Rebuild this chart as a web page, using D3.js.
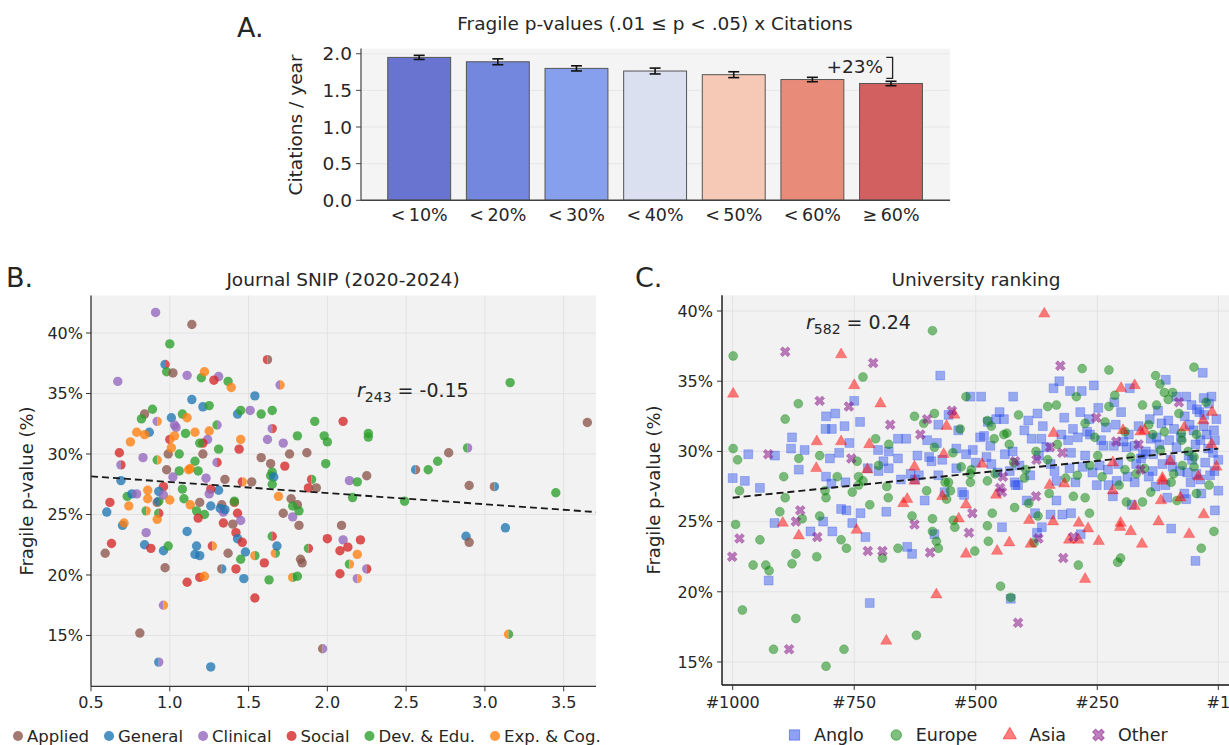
<!DOCTYPE html>
<html><head><meta charset="utf-8">
<script src="https://cdn.jsdelivr.net/npm/d3@7"></script>
<style>
body{margin:0;background:#fff;}
text{font-family:"DejaVu Sans","Liberation Sans",sans-serif;fill:#262626;}
</style>
</head><body>
<svg id="c" width="1229" height="745"></svg>
<script>
// ================= DATA =================
// Panel A
const barLabels = ["<\u200910%","<\u200920%","<\u200930%","<\u200940%","<\u200950%","<\u200960%","\u2265\u200960%"];
const barValues = [1.95, 1.89, 1.80, 1.764, 1.714, 1.648, 1.594];
const barErrors = [0.028, 0.04, 0.035, 0.04, 0.04, 0.03, 0.03];
const bracketRange = [1.95, 1.665];
const bracketText = "+23%";
const yTicksA = [0, 0.5, 1.0, 1.5, 2.0];

// Panel B : [SNIP, fragile %, field, second field]
const fieldNames = ["Applied","General","Clinical","Social","Dev. & Edu.","Exp. & Cog."];
const fieldCodes = ["A","G","C","S","D","E"];
const journalPoints = [
[0.91,41.7,"C"],[1.14,40.7,"A"],[1.00,39.1,"D"],[0.97,37.4,"G","S"],[0.98,36.8,"D"],[1.02,36.7,"A"],
[1.11,36.5,"C"],[1.20,36.3,"D"],[1.22,36.8,"E"],[1.31,36.4,"C"],[1.28,36.1,"S"],[1.37,36.0,"D"],
[1.39,35.5,"E"],[1.62,37.8,"S","A"],[1.70,35.7,"C","E"],[0.67,36.0,"C"],[1.14,34.5,"G"],[1.21,33.9,"G"],
[1.25,34.0,"D"],[1.54,34.8,"G"],[1.43,33.3,"G"],[1.45,33.6,"D"],[1.51,33.6,"C"],[1.58,33.3,"D"],
[1.65,33.6,"D"],[0.89,33.7,"D"],[0.84,33.3,"A"],[0.82,32.9,"D"],[0.92,32.7,"C","E"],[1.01,33.0,"G"],
[1.08,33.3,"D"],[1.11,33.0,"E"],[1.03,32.4,"C"],[1.04,32.2,"C"],[0.87,31.8,"G"],[0.79,31.8,"E"],
[0.84,31.6,"E"],[0.75,31.0,"E"],[1.00,31.2,"S","E"],[1.03,31.5,"E"],[1.10,31.7,"D"],[1.16,31.8,"E"],
[1.25,31.9,"E"],[1.30,32.4,"D","C"],[1.24,31.2,"C"],[1.21,30.9,"S"],[1.19,30.9,"D"],[1.31,30.4,"D"],
[1.45,31.2,"E"],[1.44,30.4,"S"],[1.62,31.2,"C"],[1.65,32.1,"C","S"],[1.72,30.9,"C"],[1.81,31.5,"D"],
[1.92,32.7,"D"],[1.98,31.5,"D"],[2.00,31.0,"D"],[2.10,32.7,"S"],[2.26,31.7,"D"],[2.26,31.4,"D"],
[3.16,35.9,"D"],[3.65,32.6,"A"],[1.87,30.1,"A"],[1.76,30.0,"A"],[1.58,29.7,"A"],[1.64,29.2,"A"],
[1.99,29.2,"D"],[1.73,29.0,"S"],[0.68,30.1,"S"],[0.83,29.7,"C"],[0.92,29.5,"D","E"],[0.99,30.0,"A"],
[1.01,30.5,"E"],[1.06,30.0,"D"],[1.21,30.0,"A"],[1.30,29.3,"C","S"],[1.16,29.4,"D"],[1.13,28.8,"E"],
[0.98,28.7,"A"],[0.69,29.1,"C","S"],[1.06,28.6,"D"],[1.12,28.7,"E"],[1.02,28.1,"C"],[1.18,28.6,"D"],
[1.35,27.9,"A"],[1.23,28.0,"C"],[1.46,27.7,"S","E"],[1.52,27.7,"A"],[1.65,28.5,"D"],[1.64,28.2,"D"],
[1.66,28.1,"G"],[1.65,27.5,"D"],[2.14,27.8,"C"],[2.19,27.7,"D"],[2.25,28.2,"A"],[2.77,30.1,"A"],
[2.89,30.5,"D","C"],[2.70,29.4,"D"],[2.64,28.7,"D"],[2.56,28.7,"G","A"],[2.90,27.4,"A"],[3.06,27.3,"A","G"],
[1.88,27.2,"S"],[1.93,27.2,"A"],[1.90,27.9,"S","D"],[1.31,27.0,"G"],[1.26,27.1,"S"],[1.08,27.1,"D"],
[0.86,27.0,"E"],[0.96,27.3,"S"],[0.93,26.9,"G"],[0.69,27.8,"G"],
[3.45,26.8,"D"],[2.49,26.1,"D"],[2.16,26.4,"D"],[1.69,26.5,"E"],[1.77,26.3,"A"],[1.81,25.8,"A"],
[1.78,24.8,"C"],[1.78,25.7,"D"],[1.82,25.3,"D"],[1.82,24.1,"A"],[1.72,25.1,"A"],[1.09,26.3,"D"],
[0.62,26.0,"S"],[0.60,25.2,"G"],[0.59,21.8,"A"],[0.63,22.6,"S"],[0.70,24.1,"G"],[0.71,24.3,"E"],
[0.73,26.5,"D"],[0.74,25.7,"E"],[0.76,26.7,"G"],[0.79,26.7,"C"],[0.86,26.3,"E"],[0.85,25.3,"D","E"],
[0.92,26.0,"A"],[0.93,25.1,"D","S"],[0.93,26.1,"G","D"],[0.96,26.6,"C"],[1.00,26.2,"E"],[0.92,24.6,"E"],
[0.85,23.5,"C"],[0.84,22.5,"G"],[0.88,22.2,"S"],[0.96,22.0,"G"],[0.99,22.4,"D"],[0.97,20.6,"A"],
[0.96,17.5,"C","E"],[0.93,12.8,"G","C"],[0.81,15.2,"A"],[1.13,25.8,"E"],[1.17,25.3,"D"],[1.22,25.0,"D"],
[1.18,24.7,"S"],[1.19,26.0,"A"],[1.11,23.6,"G"],[1.17,22.4,"G"],[1.19,21.6,"G"],[1.16,21.7,"G"],
[1.11,19.4,"S"],[1.19,19.8,"S"],[1.22,19.9,"E"],[1.26,25.7,"G"],[1.25,26.7,"C"],[1.33,25.8,"A"],
[1.32,25.5,"G"],[1.34,25.2,"C"],[1.35,25.4,"G"],[1.34,24.3,"S"],[1.40,24.2,"A"],[1.41,26.0,"S"],
[1.41,26.1,"D"],[1.43,25.1,"S"],[1.45,24.5,"C"],[1.42,23.5,"S"],[1.43,23.0,"G"],[1.46,22.7,"S"],
[1.48,21.9,"G"],[1.45,21.3,"D"],[1.42,20.5,"S"],[1.47,19.7,"G"],[1.54,21.6,"E","D"],[1.60,21.0,"S"],
[1.37,21.8,"A"],[1.27,22.4,"S","E"],[1.33,20.5,"A","G"],[1.54,18.1,"S"],[1.63,19.6,"D"],[1.65,23.2,"D","S"],
[1.67,21.8,"E","D"],[1.68,22.4,"G"],[1.78,19.8,"E","D"],[1.81,19.9,"D"],[1.88,22.2,"D","S"],[2.00,23.0,"S"],
[2.08,22.0,"S"],[2.10,22.9,"C"],[2.13,22.3,"S"],[2.09,24.1,"A"],[2.21,22.9,"S"],[2.19,21.7,"E"],
[2.14,20.9,"D","E"],[2.25,20.5,"C","S"],[2.19,19.7,"C","E"],[2.08,20.1,"S"],[1.84,21.0,"A"],[1.83,21.3,"A"],
[1.97,13.9,"A","C"],[2.88,23.2,"G"],[2.90,22.7,"A"],[3.13,23.9,"G"],[3.15,15.1,"E","D"],[1.26,12.4,"G"]
];
const trendB = [[0.5, 28.15], [3.705, 25.2]];
const rLabelB = {sub: "243", val: " = -0.15"};
const xTicksB = [0.5, 1.0, 1.5, 2.0, 2.5, 3.0, 3.5];
const yTicksB = [15, 20, 25, 30, 35, 40];

// Panel C : [university rank, fragile %]
const anglo = [
[1000,28.1],[975,27.9],[968,29.8],[913,29.7],[880,30.2],[878,31.0],[864,28.7],[852,30.1],[808,32.5],[809,31.6],
[800,29.5],[789,32.7],[796,31.6],[781,29.9],[750,33.6],[738,32.1],[679,30.0],[722,28.8],[701,30.1],[679,28.8],
[660,30.9],[643,30.9],[596,29.6],[591,29.3],[617,28.3],[573,35.4],[577,31.9],[556,32.6],[569,29.4],[577,28.3],
[536,31.5],[511,33.9],[489,33.9],[528,27.1],[506,30.1],[491,31.0],[483,31.1],[475,32.1],[458,32.3],[478,29.6],
[468,29.1],[451,32.8],[442,32.3],[424,30.0],[410,29.0],[423,33.9],[418,27.6],[388,28.3],[373,32.7],[365,30.9],
[324,31.2],[346,29.1],[340,34.5],[328,35.0],[304,29.9],[307,28.8],[295,27.8],[306,34.3],[282,34.3],[257,34.7],
[271,31.4],[265,31.2],[267,32.3],[242,30.8],[237,30.4],[183,34.5],[201,32.8],[212,31.9],[216,30.4],[228,28.7],
[207,29.1],[188,28.2],[173,27.8],[173,30.4],[109,35.1],[87,33.9],[142,32.3],[128,31.0],[118,32.0],[104,32.2],
[87,30.3],[99,29.4],[136,28.6],[144,28.2],[67,33.9],[56,33.3],[40,32.8],[33,35.6],[31,33.8],[20,33.4],
[31,31.8],[25,31.2],[10,31.5],[8,30.8],[38,30.8],[55,29.4],[38,28.0],[1,27.2],[1,29.4],[116,29.1],
[944,27.4],[808,28.2],[768,27.8],[700,28.6],[634,28.4],[797,27.7],[654,28.0],[625,28.0],[564,27.1],[420,27.8],
[413,27.6],[334,27.9],[227,27.6],[251,27.6],[71,27.0],[36,27.0],[58,27.8],
[60,31.9],[45,33.0],[15,33.9],[5,32.3],[22,30.2],[48,30.5],[70,32.5],[92,31.6],[125,32.9],[150,30.0],
[160,29.5],[135,29.8],[12,29.9],[28,29.2],[95,28.9],[80,28.6],[65,28.5],[18,28.3],[110,27.6],[170,29.1],
[190,30.3],[245,29.0],[260,28.5],[275,29.7],[290,31.0],[310,30.8],[355,30.3],[385,30.9],[400,31.5],[430,28.6],
[455,28.5],[500,29.2],[520,29.8],[540,28.8],[600,30.8],[620,29.7],[660,29.5],[690,29.3],[760,30.6],[770,31.8],
[30,32.6],[52,31.5],[78,31.0],[102,30.8],[122,30.5],[140,30.9],[165,31.8],[185,31.2],[232,31.7],[248,33.1],
[285,32.8],[300,31.6],[318,32.4],[362,31.8],[392,32.2],[215,33.5],[196,30.7],[156,29.8],[62,29.7],[9,28.6],
[46,28.4],[130,27.5],[210,27.9],[280,28.9],[338,28.6],[370,29.7],[440,29.8],[470,30.4],[540,30.2],[580,30.6],
[926,20.8],[914,24.9],[840,24.3],[814,25.0],[795,24.3],[777,25.9],[766,25.8],[754,24.9],[737,25.6],[727,23.9],
[718,19.2],[684,25.7],[641,23.2],[631,22.7],[605,26.5],[585,24.1],[524,26.9],[446,24.6],[428,19.5],[395,26.5],
[378,25.6],[364,24.6],[374,24.2],[334,26.5],[346,25.5],[322,25.5],[304,25.6],[284,24.1],[218,26.8],[179,26.2],
[106,26.7],[98,24.5],[48,22.2],[8,25.8],[67,26.6]
];
const europe = [
[999,36.8],[999,30.2],[990,29.4],[892,32.3],[865,33.4],[986,27.2],[821,29.7],[732,35.3],[706,30.9],[744,29.3],
[700,29.0],[741,28.2],[741,27.6],[679,30.5],[626,32.5],[607,32.0],[585,32.7],[585,30.3],[589,38.6],[547,29.9],
[556,27.8],[552,27.2],[532,31.6],[520,33.9],[511,28.4],[509,28.7],[476,32.2],[468,31.8],[462,30.9],[442,31.2],
[436,31.3],[431,30.5],[422,29.2],[412,32.6],[397,28.7],[376,30.0],[352,33.2],[352,29.4],[334,33.3],[332,30.5],
[291,28.3],[281,35.9],[293,33.9],[275,32.0],[234,32.1],[255,31.0],[249,29.7],[226,35.8],[226,33.2],[214,34.0],
[193,31.4],[193,28.7],[181,29.6],[157,33.3],[130,35.4],[121,34.8],[112,34.2],[95,34.2],[104,33.7],[128,33.3],
[144,31.9],[136,31.2],[112,31.4],[82,32.7],[77,31.3],[120,30.1],[76,30.8],[93,28.4],[153,28.8],[63,30.0],
[51,36.0],[26,33.5],[46,31.2],[51,29.6],[51,28.9],[75,29.0],[895,28.2],[864,29.5],[810,27.2],[785,28.2],
[732,27.9],[601,27.2],[683,27.5],[754,27.1],[563,27.8],[511,27.8],[476,27.9],[349,27.0],[140,27.1],[46,27.0],
[240,28.2],[205,27.6],[170,28.4],[98,27.8],[20,27.6],[265,29.0],[315,28.1],[400,28.1],[460,28.4],[530,28.9],
[994,24.8],[980,18.7],[944,23.7],[958,21.9],[932,21.9],[925,21.5],[916,15.9],[903,25.7],[892,26.7],[878,22.0],
[870,22.7],[870,18.1],[857,25.2],[827,22.5],[821,25.4],[808,26.7],[808,14.7],[777,23.7],[771,15.9],[766,23.1],
[718,26.2],[692,22.4],[680,26.7],[660,23.1],[631,25.4],[622,16.9],[589,25.2],[589,24.3],[581,23.6],[577,23.1],
[560,26.6],[546,25.1],[543,24.6],[502,22.9],[476,24.7],[474,23.6],[466,25.6],[449,20.4],[428,19.6],[420,26.0],
[391,26.3],[372,25.4],[380,23.5],[299,26.8],[289,21.9],[275,26.7],[266,25.6],[208,22.1],[202,22.4],[190,26.4],
[157,26.4],[36,23.1],[10,24.3],[86,26.5]
];
const asia = [
[999,34.1],[827,30.7],[828,28.8],[777,30.7],[750,34.7],[777,36.9],[723,28.7],[719,30.5],[696,33.4],[626,28.9],
[544,32.6],[560,31.8],[566,29.8],[487,29.1],[340,31.3],[201,34.5],[197,31.5],[218,29.2],[161,31.4],[153,31.5],
[71,31.7],[100,29.3],[116,28.1],[14,32.8],[32,32.2],[15,30.5],[42,28.2],[5,28.9],[626,27.9],[348,27.6],
[318,27.7],[218,27.2],[116,27.9],[359,39.8],[173,34.7],
[897,24.9],[864,24.0],[745,24.4],[684,16.5],[649,26.3],[641,26.6],[581,19.8],[569,26.8],[535,25.2],[520,26.2],
[520,22.7],[456,22.9],[458,26.9],[431,23.5],[390,25.1],[387,23.4],[341,25.0],[308,23.7],[289,23.7],[288,24.9],
[269,24.5],[247,23.6],[275,20.9],[203,24.6],[202,24.9],[181,24.3],[173,26.1],[158,23.4],[124,25.0],[119,26.5],
[79,26.7],[61,24.1],[31,25.5]
];
const other = [
[927,29.8],[821,33.6],[761,33.2],[756,29.5],[892,37.1],[711,36.3],[676,31.9],[614,31.2],[600,32.3],[549,32.9],
[444,28.2],[419,29.3],[375,29.4],[347,30.3],[326,36.1],[322,29.9],[252,32.4],[211,30.7],[161,28.7],[165,30.5],
[82,33.5],[446,27.1],[450,27.4],
[1001,22.5],[986,23.8],[884,15.9],[870,25.0],[861,25.8],[826,23.9],[722,22.9],[692,22.9],[626,24.8],[594,22.8],
[514,24.2],[507,25.6],[413,17.8],[376,26.8],[371,23.8],[320,22.4],[299,23.9]
];
const regionNames = ["Anglo","Europe","Asia","Other"];
const trendC = [[1000, 26.7], [1, 30.2]];
const rLabelC = {sub: "582", val: " = 0.24"};
const xTicksC = [1000, 750, 500, 250, 1];
const yTicksC = [15, 20, 25, 30, 35, 40];

// ================= STYLE =================
const barColors = ["#6874d0","#7387df","#86a0ee","#dae0ef","#f6c9b7","#e88c79","#d26060"];
const fieldColors = {A:"#8c564b",G:"#1f77b4",C:"#9467bd",S:"#d62728",D:"#2ca02c",E:"#ff7f0e"};
const regionStyle = [
  {color:"#1f44ec", sym:d3.symbolSquare, size:78, rot:0},
  {color:"#008000", sym:d3.symbolCircle, size:64, rot:0},
  {color:"#ff0000", sym:d3.symbolTriangle, size:56, rot:0},
  {color:"#800080", sym:d3.symbolCross, size:62, rot:45}
];
const BG = "#f2f2f2", GRID = "#e2e2e2";

const svg = d3.select("#c");

// ================= PANEL A =================
const xA = d3.scaleLinear().domain([-0.74, 6.75]).range([361, 950]);
const yA = d3.scaleLinear().domain([0, 2.07]).range([200.3, 48.6]);
const gA = svg.append("g");
gA.append("rect").attr("x", 361).attr("y", yA(2.07)).attr("width", 950-361).attr("height", yA(0)-yA(2.07)).attr("fill", "#f4f4f4");
gA.selectAll(".ga").data(yTicksA).join("line")
  .attr("x1", 361).attr("x2", 950).attr("y1", d=>yA(d)).attr("y2", d=>yA(d))
  .attr("stroke", "#e6e6e6").attr("stroke-width", 1);
gA.selectAll(".bar").data(barValues).join("rect")
  .attr("x", (d,i)=>xA(i-0.4)).attr("width", xA(0.4)-xA(-0.4))
  .attr("y", d=>yA(d)).attr("height", d=>yA(0)-yA(d))
  .attr("fill", (d,i)=>barColors[i]).attr("stroke", "#555").attr("stroke-width", 1);
const eb = gA.selectAll(".eb").data(barValues).join("g");
eb.append("line").attr("x1",(d,i)=>xA(i)).attr("x2",(d,i)=>xA(i))
  .attr("y1",(d,i)=>yA(d-barErrors[i])).attr("y2",(d,i)=>yA(d+barErrors[i])).attr("stroke","#111").attr("stroke-width",1.6);
[-1,1].forEach(s=>{
  eb.append("line").attr("x1",(d,i)=>xA(i)-5.5).attr("x2",(d,i)=>xA(i)+5.5)
    .attr("y1",(d,i)=>yA(d+s*barErrors[i])).attr("y2",(d,i)=>yA(d+s*barErrors[i])).attr("stroke","#111").attr("stroke-width",1.6);
});
gA.append("line").attr("x1",361).attr("x2",361).attr("y1",yA(2.07)).attr("y2",yA(0)).attr("stroke","#444").attr("stroke-width",1.2);
gA.append("line").attr("x1",361).attr("x2",950).attr("y1",yA(0)).attr("y2",yA(0)).attr("stroke","#444").attr("stroke-width",1.5);
gA.selectAll(".tka").data(yTicksA).join("line").attr("x1",356).attr("x2",361).attr("y1",d=>yA(d)).attr("y2",d=>yA(d)).attr("stroke","#444");
gA.selectAll(".tla").data(yTicksA).join("text").attr("x",352).attr("y",d=>yA(d)).attr("dy","0.36em")
  .attr("text-anchor","end").attr("font-size",18.5).text(d=>d3.format(".1f")(d));
gA.selectAll(".xla").data(barLabels).join("text").attr("x",(d,i)=>xA(i)).attr("y",221)
  .attr("text-anchor","middle").attr("font-size",17.5).text(d=>d);
gA.append("text").attr("transform","translate(302,125) rotate(-90)").attr("text-anchor","middle").attr("font-size",18.5).text("Citations / year");
gA.append("text").attr("x",655).attr("y",30).attr("text-anchor","middle").attr("font-size",18.5).text("Fragile p-values (.01 \u2264 p < .05) x Citations");
gA.append("text").attr("x",237).attr("y",37).attr("font-size",27).text("A.");
gA.append("path").attr("d",`M${xA(5.94)},${yA(bracketRange[0])}H${xA(6.02)}V${yA(bracketRange[1])}H${xA(5.94)}`)
  .attr("fill","none").attr("stroke","#222").attr("stroke-width",1.3);
gA.append("text").attr("x",xA(5.9)).attr("y",yA(1.74)).attr("text-anchor","end").attr("font-size",18.5).text(bracketText);

// ================= PANEL B =================
const xB = d3.scaleLinear().domain([0.5, 3.705]).range([91, 596]);
const yB = d3.scaleLinear().domain([10.8, 43.1]).range([686.3, 295.5]);
const gB = svg.append("g");
gB.append("rect").attr("x",91).attr("y",yB(43.1)).attr("width",596-91).attr("height",yB(10.8)-yB(43.1)).attr("fill",BG);
gB.selectAll(".gbx").data(xTicksB).join("line").attr("x1",d=>xB(d)).attr("x2",d=>xB(d)).attr("y1",yB(43.1)).attr("y2",yB(10.8)).attr("stroke",GRID);
gB.selectAll(".gby").data(yTicksB).join("line").attr("x1",91).attr("x2",596).attr("y1",d=>yB(d)).attr("y2",d=>yB(d)).attr("stroke",GRID);
const arcL = d3.arc().innerRadius(0).outerRadius(4.7).startAngle(Math.PI).endAngle(2*Math.PI);
const arcR = d3.arc().innerRadius(0).outerRadius(4.7).startAngle(0).endAngle(Math.PI);
const pts = gB.selectAll(".pb").data(journalPoints).join("g")
  .attr("transform", d=>`translate(${xB(d[0])},${yB(d[1])})`).attr("opacity",0.78);
pts.filter(d=>!d[3]).append("circle").attr("r",4.7).attr("fill",d=>fieldColors[d[2]]);
pts.filter(d=>d[3]).append("path").attr("d",arcL()).attr("fill",d=>fieldColors[d[2]]);
pts.filter(d=>d[3]).append("path").attr("d",arcR()).attr("fill",d=>fieldColors[d[3]]);
gB.append("path").attr("d", d3.line().x(d=>xB(d[0])).y(d=>yB(d[1]))(trendB))
  .attr("stroke","#1a1a1a").attr("stroke-width",1.8).attr("stroke-dasharray","7,4").attr("fill","none");
gB.append("line").attr("x1",91).attr("x2",91).attr("y1",yB(43.1)).attr("y2",yB(10.8)).attr("stroke","#333").attr("stroke-width",1.3);
gB.append("line").attr("x1",91).attr("x2",596).attr("y1",yB(10.8)).attr("y2",yB(10.8)).attr("stroke","#333").attr("stroke-width",1.3);
gB.selectAll(".tkbx").data(xTicksB).join("line").attr("x1",d=>xB(d)).attr("x2",d=>xB(d)).attr("y1",686.3).attr("y2",691.3).attr("stroke","#333");
gB.selectAll(".tlbx").data(xTicksB).join("text").attr("x",d=>xB(d)).attr("y",708).attr("text-anchor","middle").attr("font-size",16).text(d=>d3.format(".1f")(d));
gB.selectAll(".tkby").data(yTicksB).join("line").attr("x1",86).attr("x2",91).attr("y1",d=>yB(d)).attr("y2",d=>yB(d)).attr("stroke","#333");
gB.selectAll(".tlby").data(yTicksB).join("text").attr("x",83).attr("y",d=>yB(d)).attr("dy","0.36em").attr("text-anchor","end").attr("font-size",16).text(d=>d+"%");
gB.append("text").attr("transform","translate(33,491) rotate(-90)").attr("text-anchor","middle").attr("font-size",18).text("Fragile p-value (%)");
gB.append("text").attr("x",343).attr("y",286).attr("text-anchor","middle").attr("font-size",18.5).text("Journal SNIP (2020-2024)");
gB.append("text").attr("x",6).attr("y",287).attr("font-size",27).text("B.");
const rB = gB.append("text").attr("x",357).attr("y",397).attr("font-size",19);
rB.append("tspan").attr("font-style","italic").text("r");
rB.append("tspan").attr("dy",5).attr("font-size",14).text(rLabelB.sub);
rB.append("tspan").attr("dy",-5).text(rLabelB.val);
// legend B
let lx = 18;
fieldNames.forEach((n,i)=>{
  gB.append("circle").attr("cx",lx).attr("cy",736).attr("r",5).attr("fill",fieldColors[fieldCodes[i]]).attr("opacity",0.8);
  const t = gB.append("text").attr("x",lx+9).attr("y",742).attr("font-size",16.5).text(n);
  lx = lx + 9 + t.node().getComputedTextLength() + 20;
});

// ================= PANEL C =================
const xC = d3.scaleLinear().domain([1022, -21]).range([722, 1229]);
const yC = d3.scaleLinear().domain([13.36, 41.12]).range([685, 295.3]);
const gC = svg.append("g");
gC.append("rect").attr("x",722).attr("y",yC(41.12)).attr("width",1229-722).attr("height",yC(13.36)-yC(41.12)).attr("fill",BG);
gC.selectAll(".gcx").data(xTicksC).join("line").attr("x1",d=>xC(d)).attr("x2",d=>xC(d)).attr("y1",yC(41.12)).attr("y2",yC(13.36)).attr("stroke",GRID);
gC.selectAll(".gcy").data(yTicksC).join("line").attr("x1",722).attr("x2",1229).attr("y1",d=>yC(d)).attr("y2",d=>yC(d)).attr("stroke",GRID);
[anglo, europe, asia, other].forEach((arr,k)=>{
  const st = regionStyle[k];
  const sym = d3.symbol().type(st.sym).size(st.size);
  gC.selectAll(".pc"+k).data(arr).join("path")
    .attr("d", sym())
    .attr("transform", d=>`translate(${xC(d[0])},${yC(d[1])}) rotate(${st.rot})`)
    .attr("fill", st.color).attr("fill-opacity", k===0?0.42:0.5)
    .attr("stroke", st.color).attr("stroke-opacity", k===0?0.35:0.3).attr("stroke-width", 0.8);
});
gC.append("path").attr("d", d3.line().x(d=>xC(d[0])).y(d=>yC(d[1]))(trendC))
  .attr("stroke","#1a1a1a").attr("stroke-width",1.9).attr("stroke-dasharray","7,4").attr("fill","none");
gC.append("line").attr("x1",722).attr("x2",722).attr("y1",yC(41.12)).attr("y2",yC(13.36)).attr("stroke","#111").attr("stroke-width",1.4);
gC.append("line").attr("x1",722).attr("x2",1229).attr("y1",yC(13.36)).attr("y2",yC(13.36)).attr("stroke","#111").attr("stroke-width",1.4);
gC.selectAll(".tkcx").data(xTicksC).join("line").attr("x1",d=>xC(d)).attr("x2",d=>xC(d)).attr("y1",685).attr("y2",690).attr("stroke","#333");
gC.selectAll(".tlcx").data(xTicksC).join("text").attr("x",d=>xC(d)).attr("y",708).attr("text-anchor","middle").attr("font-size",16).text(d=>"#"+d);
gC.selectAll(".tkcy").data(yTicksC).join("line").attr("x1",717).attr("x2",722).attr("y1",d=>yC(d)).attr("y2",d=>yC(d)).attr("stroke","#333");
gC.selectAll(".tlcy").data(yTicksC).join("text").attr("x",713).attr("y",d=>yC(d)).attr("dy","0.36em").attr("text-anchor","end").attr("font-size",16).text(d=>d+"%");
gC.append("text").attr("transform","translate(660,490) rotate(-90)").attr("text-anchor","middle").attr("font-size",18).text("Fragile p-value (%)");
gC.append("text").attr("x",976).attr("y",286).attr("text-anchor","middle").attr("font-size",18.5).text("University ranking");
gC.append("text").attr("x",635).attr("y",287).attr("font-size",27).text("C.");
const rC = gC.append("text").attr("x",806).attr("y",329).attr("font-size",19);
rC.append("tspan").attr("font-style","italic").text("r");
rC.append("tspan").attr("dy",5).attr("font-size",14).text(rLabelC.sub);
rC.append("tspan").attr("dy",-5).text(rLabelC.val);
// legend C
let cx = 794.5;
regionNames.forEach((n,k)=>{
  const st = regionStyle[k];
  gC.append("path").attr("d", d3.symbol().type(st.sym).size(st.size*1.35)())
    .attr("transform",`translate(${cx},735) rotate(${st.rot})`)
    .attr("fill",st.color).attr("fill-opacity",0.5).attr("stroke",st.color).attr("stroke-opacity",0.5);
  const t = gC.append("text").attr("x",cx+19.5).attr("y",741).attr("font-size",17.5).text(n);
  cx = cx + 19.5 + t.node().getComputedTextLength() + 32.5;
});
</script>
</body></html>
